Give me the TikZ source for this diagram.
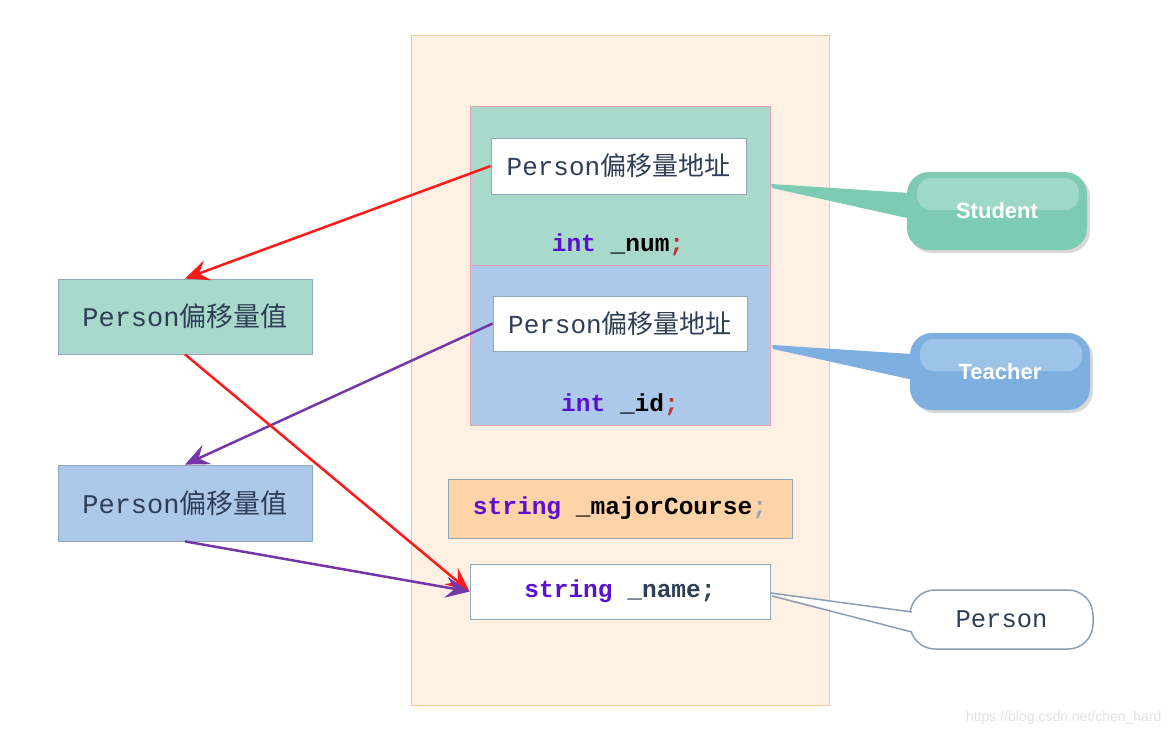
\documentclass[tikz,border=0pt]{standalone}
\usepackage{fontspec}
\setmainfont{Liberation Mono}
\newfontfamily\cjk{Noto Sans CJK SC}
\newfontfamily\callfont{Liberation Sans}
\usetikzlibrary{arrows.meta,shadows}
\definecolor{bgpeach}{HTML}{FFF0E4}
\definecolor{bgborder}{HTML}{F8C898}
\definecolor{stugreen}{HTML}{A9D9CB}
\definecolor{teablue}{HTML}{ADC9E9}
\definecolor{pinkb}{HTML}{E6A2B4}
\definecolor{grayb}{HTML}{8FA6B8}
\definecolor{majfill}{HTML}{FFD3A8}
\definecolor{txt}{HTML}{2E3E56}
\definecolor{kw}{HTML}{5A10D0}
\definecolor{semired}{HTML}{C03030}
\definecolor{arrred}{HTML}{FF1A1A}
\definecolor{arrpur}{HTML}{7437A8}
\definecolor{callgreen}{HTML}{7ECBB4}
\definecolor{callblue}{HTML}{7DB0E0}
\definecolor{callgray}{HTML}{8D9DB3}
\definecolor{wm}{HTML}{E2E2E2}
\tikzset{
  blk/.style={draw=pinkb, line width=1pt},
  inbox/.style={draw=grayb, fill=white, line width=0.8pt, minimum width=255pt, minimum height=56pt, text=txt, font=\fontsize{26}{28}\selectfont, inner sep=0pt},
  leftbox/.style={draw=grayb, line width=0.8pt, minimum width=254pt, minimum height=75pt, text=txt, font=\fontsize{27}{29}\selectfont, inner sep=0pt},
  code/.style={font=\fontsize{24.5}{26}\selectfont\bfseries, inner sep=0pt},
  callout/.style={rounded corners=22pt, minimum width=180pt, minimum height=78pt, inner sep=0pt,
     drop shadow={opacity=0.3, shadow xshift=3pt, shadow yshift=-3pt}},
  arr/.style={line width=2.5pt, -{Stealth[length=24pt,width=21pt,inset=9pt]}},
}
\begin{document}
\begin{tikzpicture}[x=1pt,y=-1pt]
\useasboundingbox (0,0) rectangle (1173,737);
\fill[white] (0,0) rectangle (1173,737);
% container
\draw[fill=bgpeach, draw=bgborder, line width=1pt] (411,35) rectangle (829,705);
% student and teacher blocks
\node[blk, fill=stugreen, minimum width=300pt, minimum height=159pt, inner sep=0pt] (stu) at (620,185.5) {};
\node[blk, fill=teablue, minimum width=300pt, minimum height=160pt, inner sep=0pt] (tea) at (620,345) {};
\node[inbox] (sa) at (618.5,166) {Person{\cjk 偏移量地址}};
\node[inbox, minimum width=254pt, minimum height=55pt] (ta) at (620,323.5) {Person{\cjk 偏移量地址}};
\node[code] (num) at (618,245) {\textcolor{kw}{int} \textcolor{black}{\_num}\textcolor{semired}{;}};
\node[code] (id) at (620,405) {\textcolor{kw}{int} \textcolor{black}{\_id}\textcolor{semired}{;}};
\node[draw=grayb, fill=majfill, line width=0.8pt, minimum width=344pt, minimum height=59pt, inner sep=0pt, code] (maj) at (620,508.5) {\textcolor{kw}{string} \textcolor{black}{\_majorCourse}\textcolor{grayb}{;}};
\node[draw=grayb, fill=white, line width=0.8pt, minimum width=300pt, minimum height=55pt, inner sep=0pt, code] (name) at (620,591.5) {\textcolor{kw}{string} \textcolor{txt}{\_name;}};
% left boxes
\node[leftbox, fill=stugreen] (l1) at (185,316.5) {Person{\cjk 偏移量值}};
\node[leftbox, fill=teablue, minimum height=76pt] (l2) at (185,503) {Person{\cjk 偏移量值}};
% arrows
\draw[arr, arrred] (sa.west) -- (l1.north);
\draw[arr, arrpur] (ta.west) -- (l2.north);
\draw[arr, arrred] (l1.south) -- (name.west);
\draw[arr, arrpur] (l2.south) -- (name.west);
% callouts
\coordinate (sp) at (771,184);
\coordinate (tp) at (772,345);
\coordinate (pp) at (771,593);
\fill[callgreen] (sp) -- (772,188) -- (925,222) -- (925,194) -- cycle;
\node[callout, fill=callgreen] (cs) at (997,211) {};
\fill[white, opacity=0.25, rounded corners=14pt] (917,178) rectangle (1079,210);
\node[font=\callfont\bfseries\fontsize{22}{24}\selectfont, text=white] at (cs.center) {Student};
\fill[callblue] (tp) -- (773,349) -- (927,383) -- (927,355) -- cycle;
\node[callout, fill=callblue, minimum height=77pt] (ct) at (1000,371.5) {};
\fill[white, opacity=0.25, rounded corners=14pt] (920,339) rectangle (1082,371);
\node[font=\callfont\bfseries\fontsize{22}{24}\selectfont, text=white] at (ct.center) {Teacher};
\node[draw=callgray, fill=white, line width=1.5pt, rounded corners=25pt, minimum width=183pt, minimum height=59pt, inner sep=0pt, text=txt, font=\fontsize{25.5}{27}\selectfont] (cp) at (1001.5,619.5) {Person};
\fill[white] (pp) -- (912,612) -- (912,632) -- cycle;
\draw[callgray, line width=1.5pt] (pp) -- (912,612);
\draw[callgray, line width=1.5pt] (772,596) -- (912,632);
% watermark
\node[text=wm, font=\callfont\fontsize{14}{16}\selectfont, anchor=east] (wmk) at (1165,718) {https://blog.csdn.net/chen\_hard};
\end{tikzpicture}
\end{document}
